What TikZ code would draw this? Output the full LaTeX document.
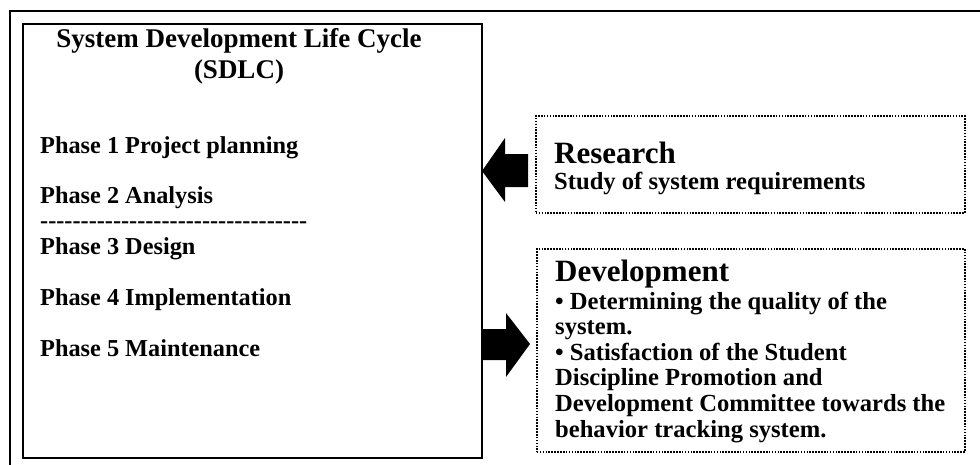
\documentclass[tikz,border=0pt]{standalone}
\usepackage{fontspec}
\setmainfont{Liberation Serif}
\tikzset{
  frameline/.style={draw=black, line width=2pt},
  dotbox/.style={draw=black, line width=1.7pt, dash pattern=on 1.6pt off 1.3pt, inner sep=0pt, anchor=north west},
  solidbox/.style={draw=black, line width=2pt, inner sep=0pt, anchor=north west},
  titletxt/.style={anchor=base, inner sep=0pt, font=\bfseries\fontsize{27}{31}\selectfont},
  phasetxt/.style={anchor=base west, inner sep=0pt, font=\bfseries\fontsize{24.3}{28}\selectfont},
  headtxt/.style={anchor=base west, inner sep=0pt, font=\bfseries\fontsize{31}{35}\selectfont},
  bodytxt/.style={anchor=base west, inner sep=0pt, font=\bfseries\fontsize{24.6}{26}\selectfont},
  blockarrow/.style={fill=black}
}
\newcommand{\dashrow}{-\kern0pt-\kern0pt-\kern0pt-\kern0pt-\kern0pt-\kern0pt-\kern0pt-\kern0pt-\kern0pt-\kern0pt-\kern0pt-\kern0pt-\kern0pt-\kern0pt-\kern0pt-\kern0pt-\kern0pt-\kern0pt-\kern0pt-\kern0pt-\kern0pt-\kern0pt-\kern0pt-\kern0pt-\kern0pt-\kern0pt-\kern0pt-\kern0pt-\kern0pt-\kern0pt-\kern0pt-\kern0pt-}
\begin{document}
\begin{tikzpicture}[x=1pt,y=-1pt]
\useasboundingbox (0,0) rectangle (980,464);
\fill[white] (0,0) rectangle (980,464);
% outer frame (only top and left visible)
\draw[frameline] (10,465) -- (10,11) -- (981,11);
% boxes
\node[solidbox, minimum width=459pt, minimum height=434pt] (sdlc) at (22,23) {};
\node[dotbox, minimum width=429pt, minimum height=97pt] (research) at (535,115) {};
\node[dotbox, minimum width=428pt, minimum height=203pt] (devel) at (536,248) {};
% SDLC text
\node[titletxt] (t1) at (239,47) {System Development Life Cycle};
\node[titletxt] (t2) at (239,78) {(SDLC)};
\node[phasetxt] (p1) at (40,153) {Phase 1 Project planning};
\node[phasetxt] (p2) at (40,203) {Phase 2 Analysis};
\node[phasetxt] (sep) at (40,228) {\dashrow};
\node[phasetxt] (p3) at (40,254) {Phase 3 Design};
\node[phasetxt] (p4) at (40,305) {Phase 4 Implementation};
\node[phasetxt] (p5) at (40,356) {Phase 5 Maintenance};
% Research text
\node[headtxt] (rh) at (554,163) {Research};
\node[bodytxt] (r1) at (554,189) {Study of system requirements};
% Development text
\node[headtxt] (dh) at (555,281) {Development};
\node[bodytxt] (d1) at (555,309) {• Determining the quality of the};
\node[bodytxt] (d2) at (555,334.6) {system.};
\node[bodytxt] (d3) at (555,360.2) {• Satisfaction of the Student};
\node[bodytxt] (d4) at (555,385.8) {Discipline Promotion and};
\node[bodytxt] (d5) at (555,411.4) {Development Committee towards the};
\node[bodytxt] (d6) at (555,437) {behavior tracking system.};
% block arrows
\fill[blockarrow] (482,171) -- (505,138) -- (505,154) -- (528,154) -- (528,187) -- (505,187) -- (505,202) -- cycle;
\fill[blockarrow] (483,329) -- (506,329) -- (506,313) -- (530,344) -- (506,377) -- (506,360) -- (483,360) -- cycle;
\end{tikzpicture}
\end{document}
